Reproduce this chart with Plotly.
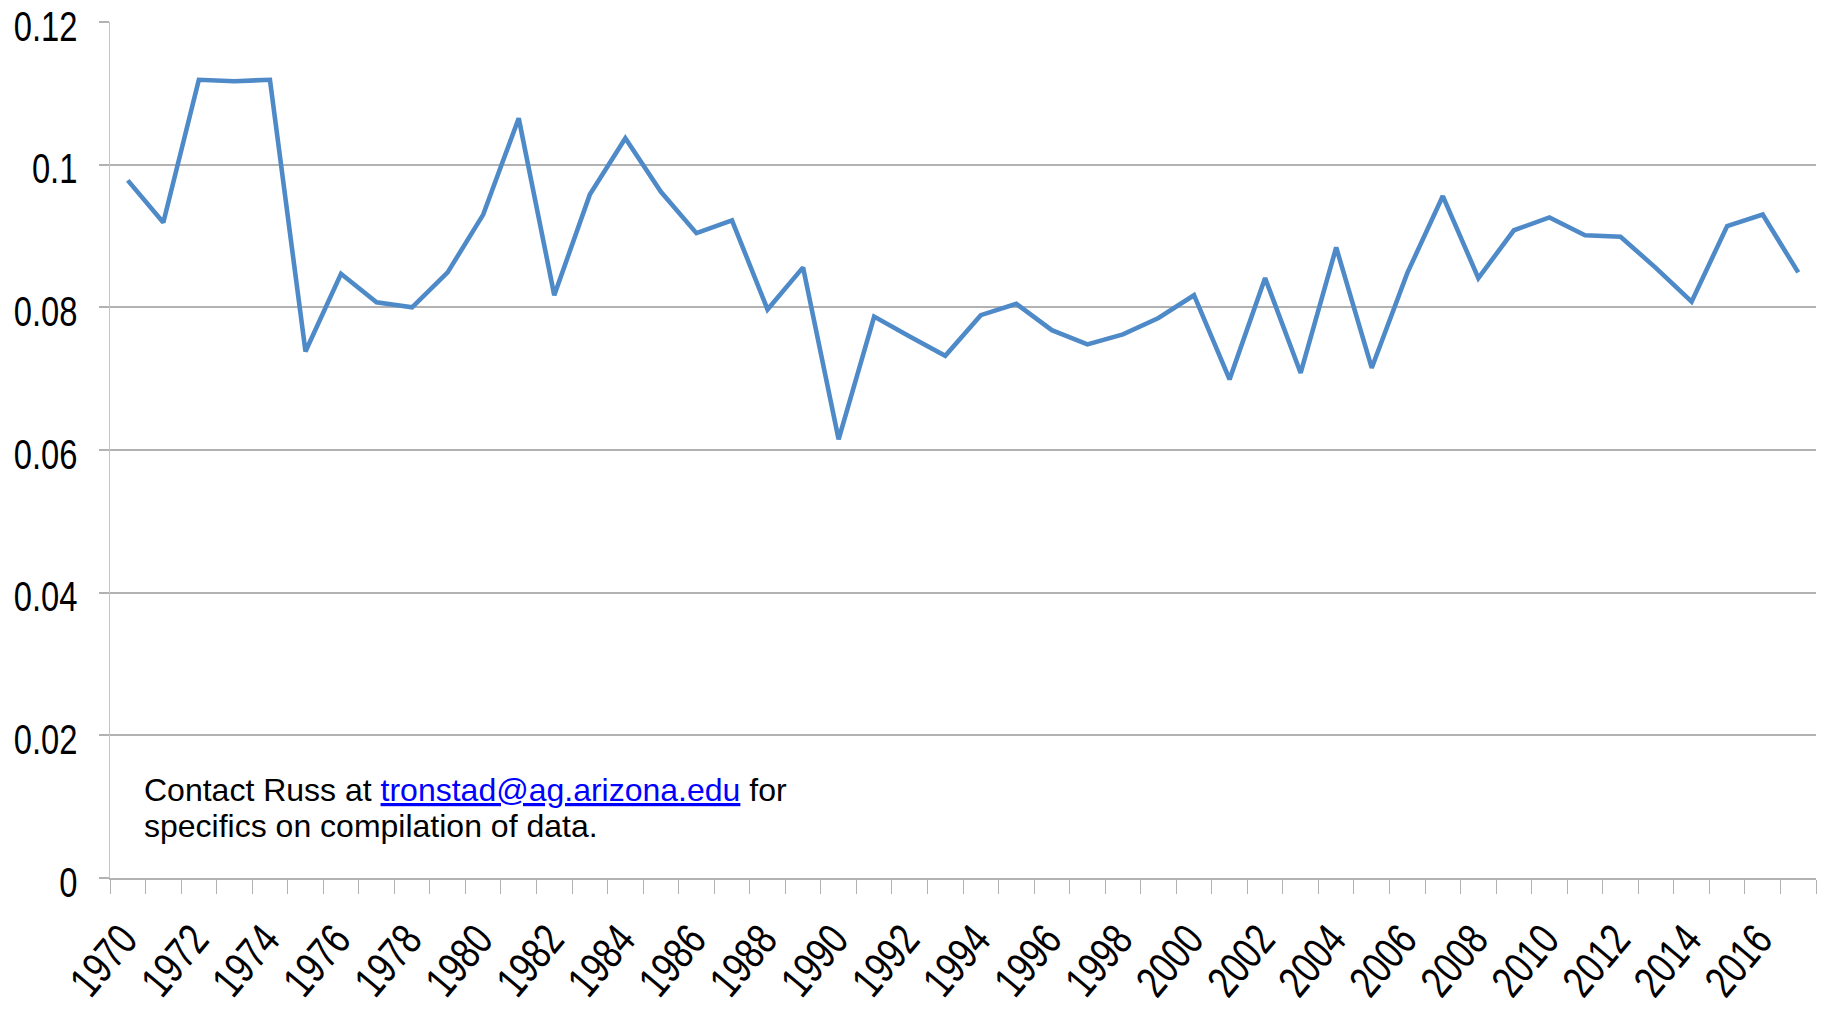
import plotly.graph_objects as go

years = list(range(1970, 2018))
values = [
    0.0978, 0.0919, 0.1119, 0.1117, 0.1119, 0.0738, 0.0847, 0.0807, 0.0800, 0.0849,
    0.0930, 0.1065, 0.0817, 0.0958, 0.1037, 0.0962, 0.0904, 0.0922, 0.0797, 0.0856,
    0.0615, 0.0787, 0.0759, 0.0732, 0.0789, 0.0805, 0.0768, 0.0748, 0.0762, 0.0785,
    0.0817, 0.0699, 0.0841, 0.0708, 0.0884, 0.0715, 0.0848, 0.0956, 0.0841, 0.0908,
    0.0926, 0.0901, 0.0899, 0.0855, 0.0808, 0.0914, 0.0930, 0.0849,
]
x_tick_years = list(range(1970, 2018, 2))
y_tick_vals = [0, 0.02, 0.04, 0.06, 0.08, 0.10, 0.12]
y_tick_text = ["0", "0.02", "0.04", "0.06", "0.08", "0.1", "0.12"]
note_line1 = ("Contact Russ at <span style=\"color:#0000ff;text-decoration:underline\">"
              "tronstad@ag.arizona.edu</span> for")
note_line2 = "specifics on compilation of data."

tick_font = "Liberation Sans Narrow, Arial Narrow, Liberation Sans, Arial, sans-serif"
text_font = "Liberation Sans, Arial, sans-serif"
grid_col = "#b2b2b2"

fig = go.Figure()
fig.add_trace(go.Scatter(
    x=years, y=values, mode="lines",
    line=dict(color="#4f8ac8", width=4.6),
    showlegend=False, hoverinfo="x+y",
))

fig.update_layout(
    width=1830, height=1010,
    margin=dict(l=110, r=14, t=22, b=132, autoexpand=False),
    paper_bgcolor="white", plot_bgcolor="white",
    font=dict(family=text_font, color="black"),
    xaxis=dict(
        range=[1969.5, 2017.5], automargin=False,
        tickmode="array", tickvals=x_tick_years,
        ticktext=[str(y) for y in x_tick_years],
        tickangle=-50, ticks="",
        tickfont=dict(family=tick_font, size=44, color="black"),
        ticklabelstandoff=16, ticklabelshift=-5, ticklabeloverflow="allow",
        showgrid=False, zeroline=False,
        showline=True, linecolor=grid_col, linewidth=2,
        minor=dict(tickmode="linear", tick0=1969.5, dtick=1, ticks="outside",
                   ticklen=14, tickwidth=1.3, tickcolor=grid_col, showgrid=False),
    ),
    yaxis=dict(
        range=[0, 0.12], automargin=False,
        tickmode="array", tickvals=y_tick_vals, ticktext=y_tick_text,
        tickfont=dict(family=tick_font, size=42, color="black"),
        ticks="outside", ticklen=10, tickwidth=2, tickcolor=grid_col,
        ticklabelstandoff=13, ticklabelshift=4, ticklabeloverflow="allow",
        showgrid=True, gridcolor=grid_col, gridwidth=2,
        zeroline=False,
        showline=True, linecolor="#c4c4c4", linewidth=1.3,
    ),
)

fig.add_annotation(
    xref="paper", yref="paper", x=0.0185, y=0.1028,
    xanchor="left", yanchor="middle", align="left", showarrow=False,
    text=note_line1, font=dict(family=text_font, size=32, color="black"),
)
fig.add_annotation(
    xref="paper", yref="paper", x=0.0185, y=0.0607,
    xanchor="left", yanchor="middle", align="left", showarrow=False,
    text=note_line2, font=dict(family=text_font, size=32, color="black"),
)

# Remove default page margin; condense tick labels horizontally (no narrow font installed)
post_js = """
document.body.style.margin = '0';
document.body.style.padding = '0';
var gd = document.getElementById('{plot_id}');
function squeeze(){
  gd.querySelectorAll('g.xtick text, g.ytick text').forEach(function(t){
    var tr = t.getAttribute('transform') || '';
    if (tr.indexOf('scale(0.78') >= 0) return;
    var x = parseFloat(t.getAttribute('x')) || 0;
    var y = parseFloat(t.getAttribute('y')) || 0;
    t.setAttribute('transform', tr + ' translate(' + x + ',' + y + ') scale(0.78,1) translate(' + (-x) + ',' + (-y) + ')');
  });
}
squeeze();
if (gd.on) { gd.on('plotly_afterplot', squeeze); }
"""

fig.write_html("out.html", post_script=post_js,
               config={"responsive": False, "displayModeBar": False})
